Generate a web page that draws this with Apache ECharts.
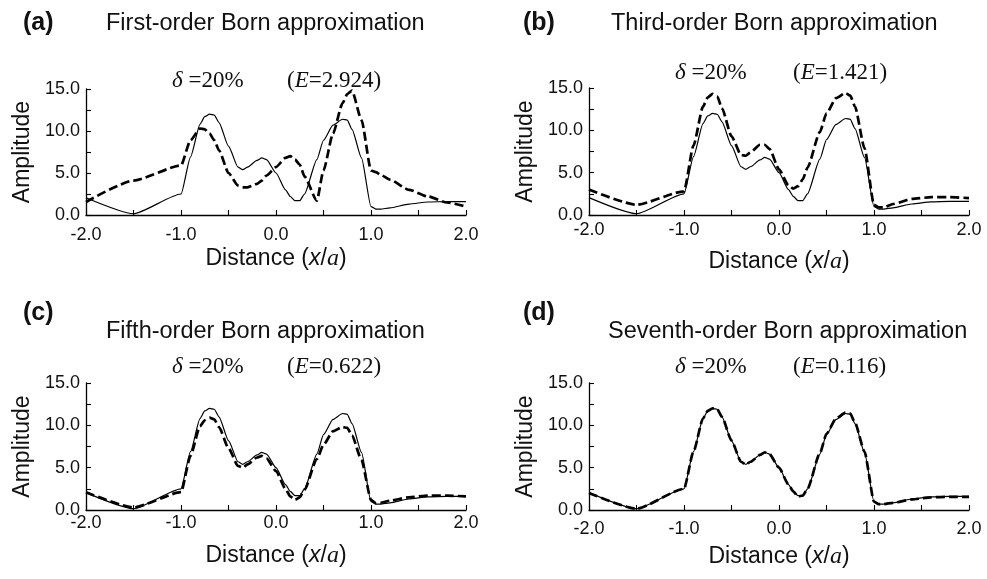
<!DOCTYPE html>
<html>
<head>
<meta charset="utf-8">
<script src="https://cdn.jsdelivr.net/npm/echarts@6/dist/echarts.min.js"></script>
<style>
  html, body { margin: 0; padding: 0; background: #fff; }
  #chart { width: 987px; height: 579px; }
</style>
</head>
<body>
<div id="chart"></div>
<script>
// x positions (x/a) shared by every curve
var xs = [-2.0, -1.5, -1.0, -0.9, -0.8, -0.75, -0.7, -0.65, -0.6, -0.5, -0.4, -0.35, -0.3,
  -0.2, -0.15, -0.1, 0.0, 0.1, 0.15, 0.2, 0.25, 0.3, 0.43, 0.5, 0.6, 0.7, 0.75, 0.8, 0.9,
  1.0, 1.05, 1.1, 1.2, 1.4, 1.6, 1.8, 2.0];

// exact amplitude (solid line, same in all panels)
var exact = [2.05, 0.15, 2.5, 6.9, 10.8, 11.7, 12.0, 11.9, 11.0, 8.2, 5.7, 5.4, 5.7,
  6.5, 6.8, 6.6, 5.0, 3.0, 2.2, 1.7, 1.7, 2.5, 6.6, 8.9, 10.7, 11.4, 11.3, 10.2, 6.8,
  1.0, 0.7, 0.7, 0.85, 1.3, 1.55, 1.6, 1.6];

// Born approximations (dashed lines)
var born1 = [1.55, 4.1, 5.9, 8.9, 10.3, 10.2, 9.7, 8.9, 7.7, 5.0, 3.5, 3.3, 3.3,
  3.7, 4.1, 4.7, 5.7, 6.8, 7.0, 6.6, 6.0, 4.6, 1.7, 5.3, 9.7, 13.3, 14.4, 14.8, 11.3,
  5.3, 5.1, 4.8, 4.2, 3.0, 2.2, 1.5, 1.0];
var born3 = [3.0, 1.2, 2.8, 8.2, 12.8, 13.9, 14.3, 14.0, 12.6, 9.3, 7.1, 7.0, 7.4,
  8.3, 8.3, 7.8, 5.4, 3.5, 3.1, 3.4, 4.2, 5.6, 9.8, 12.0, 13.8, 14.4, 14.1, 12.8, 7.9,
  1.2, 0.9, 0.9, 1.3, 1.9, 2.1, 2.1, 2.0];
var born5 = [2.1, 0.3, 2.1, 6.4, 9.9, 10.6, 10.9, 10.7, 9.8, 7.3, 5.2, 5.0, 5.4,
  6.2, 6.4, 6.1, 4.6, 2.5, 1.6, 1.2, 1.5, 2.4, 6.0, 7.7, 9.3, 9.8, 9.7, 8.8, 5.9,
  1.2, 0.8, 0.85, 1.1, 1.5, 1.7, 1.7, 1.6];
var born7 = [2.0, 0.15, 2.5, 6.9, 10.8, 11.7, 12.0, 11.9, 11.0, 8.2, 5.7, 5.4, 5.7,
  6.5, 6.8, 6.6, 5.0, 3.0, 2.2, 1.6, 1.7, 2.5, 6.7, 9.0, 10.8, 11.5, 11.4, 10.3, 6.9,
  1.0, 0.7, 0.7, 0.85, 1.25, 1.5, 1.55, 1.55];

var panelTags = ['(a)', '(b)', '(c)', '(d)'];
var panelTitles = ['First-order Born approximation', 'Third-order Born approximation',
  'Fifth-order Born approximation', 'Seventh-order Born approximation'];
var errors = ['2.924', '1.421', '0.622', '0.116'];
var bornSets = [born1, born3, born5, born7];

var SANS = '"Liberation Sans", Arial, Helvetica, sans-serif';
var SERIF = '"Liberation Serif", "Times New Roman", serif';

// layout per panel
var grids = [
  { left: 86, top: 89, width: 380, height: 126 },
  { left: 589, top: 88, width: 380, height: 127 },
  { left: 86, top: 383, width: 380, height: 127 },
  { left: 589, top: 383, width: 380, height: 127 }
];
var xLabelMargin = [11, 6, 4, 10];
var xNameGap = [32, 35, 34, 35];
var textPos = [
  { tag: [23, 11], title: [106, 12], note: [172, 69], err: [287, 69] },
  { tag: [523, 11], title: [611, 12], note: [675, 61], err: [793, 61] },
  { tag: [23, 301], title: [106, 320], note: [172, 355], err: [287, 355] },
  { tag: [523, 301], title: [608, 320], note: [675, 355], err: [793, 355] }
];

function pairs(vals) {
  return xs.map(function (x, i) { return [x, vals[i]]; });
}

// ticks every half step, labels only on whole steps
function labelEvery(step) {
  return function (v) {
    return Math.abs(v / step - Math.round(v / step)) < 1e-6 ? v.toFixed(1) : '';
  };
}

var tickStyle = { color: '#000', width: 1.1 };

var titles = [], xAxes = [], yAxes = [], series = [];

panelTags.forEach(function (tag, i) {
  var p = textPos[i];
  titles.push({
    text: tag, left: p.tag[0], top: p.tag[1], padding: 0,
    textStyle: { fontFamily: SANS, fontWeight: 'bold', fontSize: 25, color: '#111' }
  });
  titles.push({
    text: panelTitles[i], left: p.title[0], top: p.title[1], padding: 0,
    textStyle: { fontFamily: SANS, fontWeight: 'normal', fontSize: 23.5, color: '#111' }
  });
  titles.push({
    text: '{d|δ} =20%', left: p.note[0], top: p.note[1], padding: 0,
    textStyle: {
      fontFamily: SERIF, fontWeight: 'normal', fontSize: 23, color: '#111',
      rich: { d: { fontFamily: SERIF, fontStyle: 'italic', fontSize: 23, color: '#111' } }
    }
  });
  titles.push({
    text: '({e|E}=' + errors[i] + ')', left: p.err[0], top: p.err[1], padding: 0,
    textStyle: {
      fontFamily: SERIF, fontWeight: 'normal', fontSize: 23, color: '#111',
      rich: { e: { fontFamily: SERIF, fontStyle: 'italic', fontSize: 23, color: '#111' } }
    }
  });

  xAxes.push({
    gridIndex: i, type: 'value', min: -2, max: 2, interval: 0.5,
    name: 'Distance ({i|x}/{a|a})', nameLocation: 'middle', nameGap: xNameGap[i],
    nameTextStyle: {
      fontFamily: SANS, fontSize: 23, color: '#111', verticalAlign: 'top',
      rich: {
        i: { fontFamily: SANS, fontStyle: 'italic', fontSize: 23, color: '#111' },
        a: { fontFamily: SERIF, fontStyle: 'italic', fontSize: 24, color: '#111' }
      }
    },
    axisLine: { onZero: false, lineStyle: { color: '#000', width: 1.3 } },
    axisTick: { inside: true, length: 5, lineStyle: tickStyle },
    splitLine: { show: false },
    axisLabel: {
      margin: xLabelMargin[i], fontFamily: SANS, fontSize: 18, color: '#111',
      formatter: labelEvery(1)
    }
  });
  yAxes.push({
    gridIndex: i, type: 'value', min: 0, max: 15, interval: 2.5,
    name: 'Amplitude', nameLocation: 'middle', nameGap: 52, nameRotate: 90,
    nameTextStyle: { fontFamily: SANS, fontSize: 23, color: '#111' },
    axisLine: { onZero: false, lineStyle: { color: '#000', width: 1.3 } },
    axisTick: { inside: true, length: 5, lineStyle: tickStyle },
    splitLine: { show: false },
    axisLabel: {
      margin: 6, fontFamily: SANS, fontSize: 18, color: '#111',
      formatter: labelEvery(5)
    }
  });

  series.push({
    type: 'line', xAxisIndex: i, yAxisIndex: i, data: pairs(exact),
    showSymbol: false, smooth: 0.2, smoothMonotone: 'x', z: 2,
    lineStyle: { color: '#000', width: 1.2 }
  });
  series.push({
    type: 'line', xAxisIndex: i, yAxisIndex: i, data: pairs(bornSets[i]),
    showSymbol: false, smooth: 0.2, smoothMonotone: 'x', z: 3,
    lineStyle: { color: '#000', width: 2.7, type: [9, 4] }
  });
});

var chart = echarts.init(document.getElementById('chart'));
chart.setOption({
  animation: false,
  backgroundColor: '#fff',
  title: titles,
  grid: grids,
  xAxis: xAxes,
  yAxis: yAxes,
  series: series
});
</script>
</body>
</html>
